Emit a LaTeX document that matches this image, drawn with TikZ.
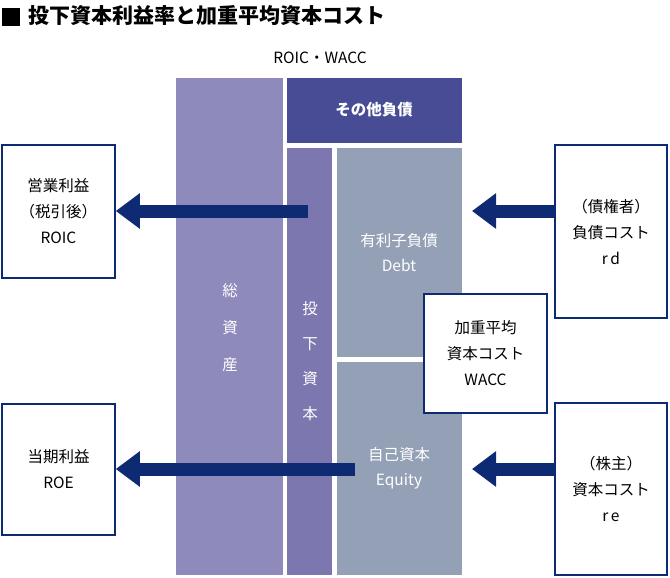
\documentclass[tikz,border=0pt]{standalone}
\usepackage{fontspec}
\setmainfont{Noto Sans CJK JP}
\usetikzlibrary{arrows.meta}
\definecolor{navy}{HTML}{0E2A72}
\definecolor{assetc}{HTML}{8E8ABB}
\definecolor{otherc}{HTML}{474C95}
\definecolor{capc}{HTML}{7C77AF}
\definecolor{debtc}{HTML}{93A0B5}
\tikzset{
  block/.style={draw=none, inner sep=0pt, font=\fontsize{15.5}{25}\selectfont, text=white, align=center},
  side/.style={draw=navy, line width=1.6pt, fill=white, inner sep=0pt, font=\fontsize{15.5}{26}\selectfont, align=center},
  flow/.style={navy, line width=13pt, -{Triangle[length=24pt,width=34pt]}}
}
\begin{document}
\begin{tikzpicture}[x=1pt,y=-1pt]
    \useasboundingbox (0,0) rectangle (670,578);
    % Title
    \fill (2,8) rectangle (20,26);
    \node[anchor=west, font=\fontsize{21}{24}\selectfont\bfseries] (title) at (25,16) {投下資本利益率と加重平均資本コスト};
    \node[font=\fontsize{15.5}{18}\selectfont] (head) at (320,58) {ROIC・WACC};

    % Columns
    \fill[assetc] (176,78) rectangle (283,575);
    \fill[otherc] (287,78) rectangle (462,143);
    \fill[capc] (287,148) rectangle (332,575);
    \fill[debtc] (337,148) rectangle (462,357);
    \fill[debtc] (337,362) rectangle (462,575);
    \node[block] (other) at (374,110) {\bfseries その他負債};
    \node[block] (assets) at (230,328) {総\\[12pt]資\\[12pt]産};
    \node[block] (capital) at (310,361) {投\\[10pt]下\\[10pt]資\\[10pt]本};
    \node[block] (debt) at (399,253) {有利子負債\\Debt};
    \node[block] (equity) at (399,468) {自己資本\\Equity};

    % Side boxes
    \node[side, minimum width=113pt, minimum height=133pt] (roic) at (58.5,211.5) {営業利益\\（税引後）\\ROIC};
    \node[side, minimum width=113pt, minimum height=131pt] (roe) at (58.5,469.5) {当期利益\\ROE};
    \node[side, minimum width=112pt, minimum height=173pt] (rd) at (611,231.5) {（債権者）\\負債コスト\\r\,d};
    \node[side, minimum width=112pt, minimum height=172pt] (re) at (611,489) {（株主）\\資本コスト\\r\,e};
    \node[side, minimum width=123pt, minimum height=119pt] (wacc) at (485.5,353.5) {加重平均\\資本コスト\\WACC};

    % Arrows
    \coordinate (roicfrom) at (308,211);
    \coordinate (roefrom) at (355,469);
    \coordinate (rdto) at (472,211);
    \coordinate (reto) at (472,469);
    \draw[flow] (roicfrom) -- (roic.east |- roicfrom);
    \draw[flow] (roefrom) -- (roe.east |- roefrom);
    \draw[flow] (rd.west |- rdto) -- (rdto);
    \draw[flow] (re.west |- reto) -- (reto);
\end{tikzpicture}
\end{document}
